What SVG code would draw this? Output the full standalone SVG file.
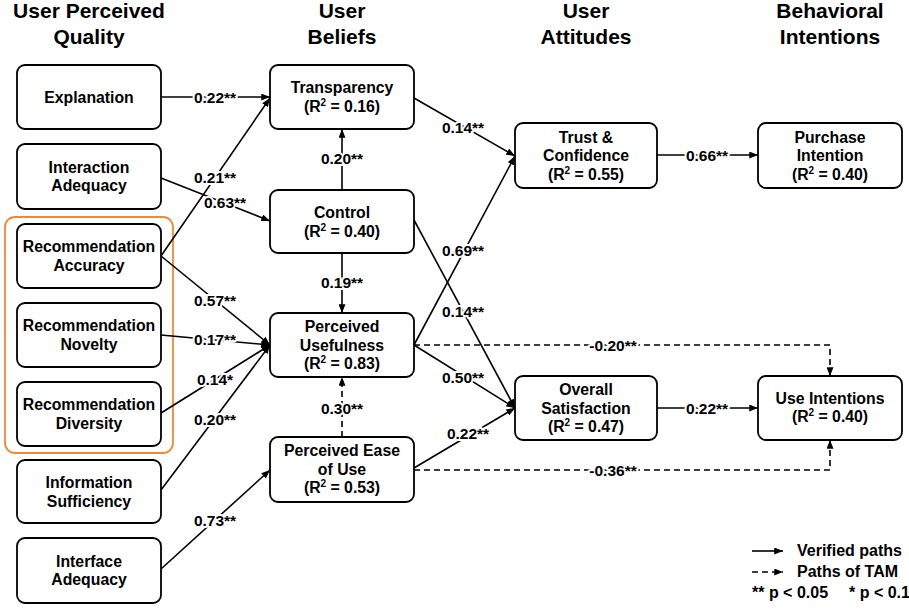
<svg xmlns="http://www.w3.org/2000/svg" width="909" height="610" viewBox="0 0 909 610">
  <defs>
    <marker id="arrow" viewBox="0 0 10 8" refX="10" refY="4" markerWidth="9" markerHeight="7" markerUnits="userSpaceOnUse" orient="auto">
      <path d="M0,0 L10,4 L0,8 z" fill="#000"/>
    </marker>
    <style>
      text { font-family: "Liberation Sans", Arial, sans-serif; font-weight: bold; fill: #000; }
      .hdr { font-size: 21px; text-anchor: middle; }
      .box { fill: #fff; stroke: #000; stroke-width: 1.8; }
      .node text { font-size: 15.8px; text-anchor: middle; }
      .sup { font-size: 10px; }
      .edge { fill: none; stroke: #000; stroke-width: 1.6; marker-end: url(#arrow); }
      .dash { stroke-dasharray: 6 4; }
      .lbl { font-size: 15.5px; text-anchor: middle; stroke: #fff; stroke-width: 4; paint-order: stroke fill; stroke-linejoin: round; }
      .leg { font-size: 16px; }
    </style>
  </defs>
  <rect width="909" height="610" fill="#fff"/>

  <!-- column headings -->
  <g id="headers">
    <text class="hdr" x="89" y="18">User Perceived</text>
    <text class="hdr" x="89" y="44">Quality</text>
    <text class="hdr" x="342" y="18">User</text>
    <text class="hdr" x="342" y="44">Beliefs</text>
    <text class="hdr" x="586" y="18">User</text>
    <text class="hdr" x="586" y="44">Attitudes</text>
    <text class="hdr" x="830" y="18">Behavioral</text>
    <text class="hdr" x="830" y="44">Intentions</text>
  </g>

  <!-- grouping frame around the recommendation qualities -->
  <rect id="rec-group" x="5" y="217" width="168" height="236" rx="10" fill="none" stroke="#F0883A" stroke-width="1.8"/>

  <!-- connectors -->
  <g id="connectors">
    <path class="edge" d="M161,97 L270,97"/>
    <path class="edge" d="M161,256 L270,98"/>
    <path class="edge" d="M161,178 L270,221"/>
    <path class="edge" d="M342,190 L342,129"/>
    <path class="edge" d="M342,253 L342,313"/>
    <path class="edge" d="M161,256 L270,345"/>
    <path class="edge" d="M161,335 L270,345"/>
    <path class="edge" d="M161,413 L270,345"/>
    <path class="edge" d="M161,490 L270,345"/>
    <path class="edge" d="M161,569 L270,470"/>
    <path class="edge" d="M414,98 L515,156"/>
    <path class="edge" d="M414,345 L515,156"/>
    <path class="edge" d="M414,220 L515,408"/>
    <path class="edge" d="M414,345 L515,408"/>
    <path class="edge" d="M414,468 L515,408"/>
    <path class="edge" d="M657,155 L758,155"/>
    <path class="edge" d="M657,408 L758,408"/>
    <path class="edge dash" d="M342,437 L342,377"/>
    <path class="edge dash" d="M414,345 H830 V376"/>
    <path class="edge dash" d="M414,470 H830 V440"/>

    <text class="lbl" x="215" y="102.5">0.22**</text>
    <text class="lbl" x="215" y="182.5">0.21**</text>
    <text class="lbl" x="225" y="207.5">0.63**</text>
    <text class="lbl" x="342" y="163.5">0.20**</text>
    <text class="lbl" x="342" y="287.5">0.19**</text>
    <text class="lbl" x="215" y="305.5">0.57**</text>
    <text class="lbl" x="215" y="344.5">0.17**</text>
    <text class="lbl" x="215" y="384.5">0.14*</text>
    <text class="lbl" x="215" y="424.5">0.20**</text>
    <text class="lbl" x="215" y="525.5">0.73**</text>
    <text class="lbl" x="342" y="413.5">0.30**</text>
    <text class="lbl" x="463" y="132.5">0.14**</text>
    <text class="lbl" x="463" y="255.5">0.69**</text>
    <text class="lbl" x="463" y="317">0.14**</text>
    <text class="lbl" x="463" y="382.5">0.50**</text>
    <text class="lbl" x="468" y="439">0.22**</text>
    <text class="lbl" x="707" y="160.5">0.66**</text>
    <text class="lbl" x="707" y="413.5">0.22**</text>
    <text class="lbl" x="613" y="350.5">-0.20**</text>
    <text class="lbl" x="613" y="475.5">-0.36**</text>
  </g>

  <!-- perceived quality -->
  <g id="explanation" class="node">
    <rect class="box" x="17" y="65" width="144" height="64" rx="8"/>
    <text x="89" y="102.5">Explanation</text>
  </g>
  <g id="interaction-adequacy" class="node">
    <rect class="box" x="17" y="144" width="144" height="65" rx="8"/>
    <text x="89" y="172.5">Interaction</text>
    <text x="89" y="191">Adequacy</text>
  </g>
  <g id="recommendation-accuracy" class="node">
    <rect class="box" x="17" y="224" width="144" height="64" rx="8"/>
    <text x="89" y="252">Recommendation</text>
    <text x="89" y="270.5">Accuracy</text>
  </g>
  <g id="recommendation-novelty" class="node">
    <rect class="box" x="17" y="303" width="144" height="64" rx="8"/>
    <text x="89" y="331">Recommendation</text>
    <text x="89" y="349.5">Novelty</text>
  </g>
  <g id="recommendation-diversity" class="node">
    <rect class="box" x="17" y="382" width="144" height="64" rx="8"/>
    <text x="89" y="410">Recommendation</text>
    <text x="89" y="428.5">Diversity</text>
  </g>
  <g id="information-sufficiency" class="node">
    <rect class="box" x="17" y="460" width="144" height="63" rx="8"/>
    <text x="89" y="488">Information</text>
    <text x="89" y="506.5">Sufficiency</text>
  </g>
  <g id="interface-adequacy" class="node">
    <rect class="box" x="17" y="538" width="144" height="65" rx="8"/>
    <text x="89" y="566.5">Interface</text>
    <text x="89" y="585">Adequacy</text>
  </g>

  <!-- beliefs -->
  <g id="transparency" class="node">
    <rect class="box" x="270" y="65" width="144" height="64" rx="8"/>
    <text x="342" y="93">Transparency</text>
    <text x="342" y="111.5">(R<tspan class="sup" dy="-6">2</tspan><tspan dy="6"> = 0.16)</tspan></text>
  </g>
  <g id="control" class="node">
    <rect class="box" x="270" y="190" width="144" height="63" rx="8"/>
    <text x="342" y="218">Control</text>
    <text x="342" y="236.5">(R<tspan class="sup" dy="-6">2</tspan><tspan dy="6"> = 0.40)</tspan></text>
  </g>
  <g id="perceived-usefulness" class="node">
    <rect class="box" x="270" y="313" width="144" height="64" rx="8"/>
    <text x="342" y="332">Perceived</text>
    <text x="342" y="350.5">Usefulness</text>
    <text x="342" y="369">(R<tspan class="sup" dy="-6">2</tspan><tspan dy="6"> = 0.83)</tspan></text>
  </g>
  <g id="perceived-ease-of-use" class="node">
    <rect class="box" x="270" y="437" width="144" height="65" rx="8"/>
    <text x="342" y="456">Perceived Ease</text>
    <text x="342" y="474.5">of Use</text>
    <text x="342" y="493">(R<tspan class="sup" dy="-6">2</tspan><tspan dy="6"> = 0.53)</tspan></text>
  </g>

  <!-- attitudes -->
  <g id="trust-confidence" class="node">
    <rect class="box" x="515" y="123" width="142" height="65" rx="8"/>
    <text x="586" y="142.5">Trust &amp;</text>
    <text x="586" y="161">Confidence</text>
    <text x="586" y="179.5">(R<tspan class="sup" dy="-6">2</tspan><tspan dy="6"> = 0.55)</tspan></text>
  </g>
  <g id="overall-satisfaction" class="node">
    <rect class="box" x="515" y="376" width="142" height="64" rx="8"/>
    <text x="586" y="395">Overall</text>
    <text x="586" y="413.5">Satisfaction</text>
    <text x="586" y="432">(R<tspan class="sup" dy="-6">2</tspan><tspan dy="6"> = 0.47)</tspan></text>
  </g>

  <!-- intentions -->
  <g id="purchase-intention" class="node">
    <rect class="box" x="758" y="123" width="144" height="65" rx="8"/>
    <text x="830" y="142.5">Purchase</text>
    <text x="830" y="161">Intention</text>
    <text x="830" y="179.5">(R<tspan class="sup" dy="-6">2</tspan><tspan dy="6"> = 0.40)</tspan></text>
  </g>
  <g id="use-intentions" class="node">
    <rect class="box" x="758" y="376" width="144" height="64" rx="8"/>
    <text x="830" y="403.5">Use Intentions</text>
    <text x="830" y="422">(R<tspan class="sup" dy="-6">2</tspan><tspan dy="6"> = 0.40)</tspan></text>
  </g>

  <!-- legend -->
  <g id="legend">
    <path class="edge" d="M752,551 L783,551"/>
    <text class="leg" x="797" y="556">Verified paths</text>
    <path class="edge dash" d="M752,572 L783,572"/>
    <text class="leg" x="797" y="577">Paths of TAM</text>
    <text class="leg" x="752" y="598">** p &lt; 0.05</text>
    <text class="leg" x="849" y="598">* p &lt; 0.1</text>
  </g>
</svg>
